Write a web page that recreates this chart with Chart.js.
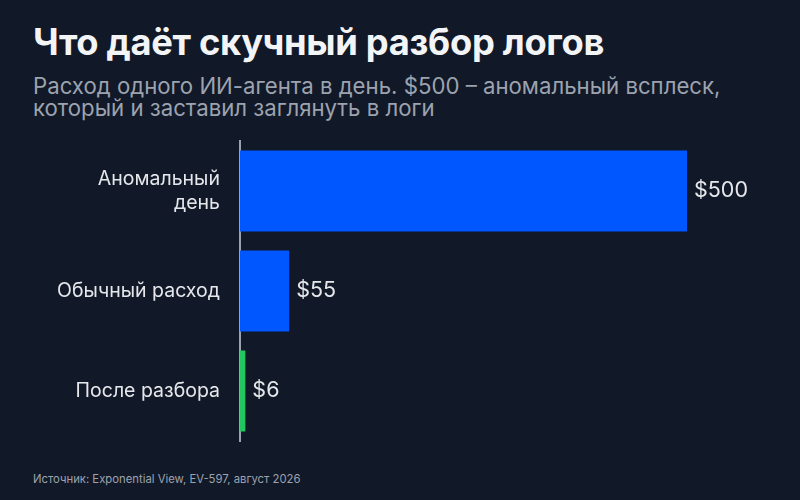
<!DOCTYPE html>
<html><head><meta charset="utf-8">
<script src="https://cdn.jsdelivr.net/npm/chart.js@4/dist/chart.umd.min.js"></script>
<style>
html,body{margin:0;padding:0;background:#111827;width:800px;height:500px;overflow:hidden;font-family:Inter,"Noto Sans",sans-serif;}
#title{position:absolute;left:33px;top:21px;font-size:36.3px;line-height:42px;font-weight:700;color:#F3F4F6;letter-spacing:-0.3px;white-space:nowrap;}
#sub{position:absolute;left:33px;top:75px;font-size:22.2px;line-height:21.5px;color:#9CA3AF;width:760px;white-space:nowrap;}
#src{position:absolute;left:33px;top:472px;font-size:11.3px;color:#9CA3AF;}
#c{position:absolute;left:0;top:130px;}
</style></head><body>
<div id="title">Что даёт скучный разбор логов</div>
<div id="sub">Расход одного ИИ-агента в день. $500 – аномальный всплеск,<br>который и заставил заглянуть в логи</div>
<div id="src">Источник: Exponential View, EV-597, август 2026</div>
<canvas id="c" width="800" height="320" style="width:800px;height:320px"></canvas>
<script>
const categories = [["Аномальный","день"], "Обычный расход", "После разбора"];
const values = [500, 55, 6];
const valueLabels = ["$500", "$55", "$6"];
const barColors = ["#0057FF", "#0057FF", "#22C55E"];

const valuePlugin = {
  id: 'vals',
  afterDatasetsDraw(chart) {
    const ctx = chart.ctx;
    const meta = chart.getDatasetMeta(0);
    ctx.save();
    ctx.font = '21.5px Inter, "Noto Sans", sans-serif';
    ctx.fillStyle = '#E5E7EB';
    ctx.textAlign = 'left';
    ctx.textBaseline = 'middle';
    meta.data.forEach((bar, i) => {
      ctx.fillText(valueLabels[i], bar.x + 7, bar.y);
    });
    ctx.restore();
  }
};

new Chart(document.getElementById('c'), {
  type: 'bar',
  data: {
    labels: categories,
    datasets: [{ data: values, backgroundColor: barColors, borderWidth: 0, barPercentage: 0.81, categoryPercentage: 1 }]
  },
  options: {
    indexAxis: 'y',
    responsive: false,
    maintainAspectRatio: false,
    animation: false,
    layout: { padding: { top: 11, bottom: 9, right: 113, left: 0 } },
    plugins: { legend: { display: false }, tooltip: { enabled: false } },
    scales: {
      x: { display: false, min: 0, max: 500 },
      y: {
        afterFit(axis) { axis.width = 240; axis.paddingTop = 0; axis.paddingBottom = 0; },
        grid: { display: false },
        border: { display: true, color: '#9CA3AF', width: 2 },
        ticks: { color: '#E5E7EB', font: { size: 19.5, family: 'Inter, "Noto Sans", sans-serif', lineHeight: 1.25 }, padding: 12 }
      }
    }
  },
  plugins: [valuePlugin]
});
</script>
</body></html>
